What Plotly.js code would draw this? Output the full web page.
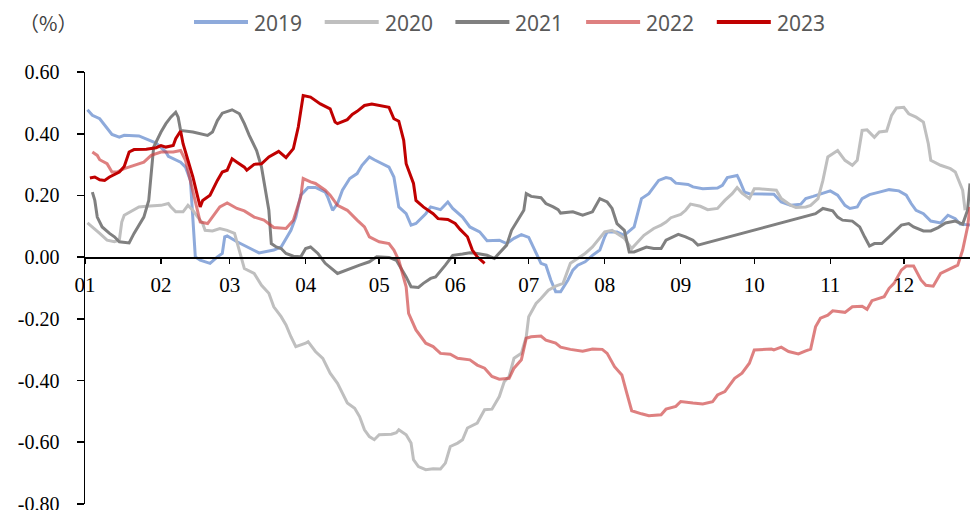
<!DOCTYPE html>
<html>
<head>
<meta charset="utf-8">
<script src="https://cdn.plot.ly/plotly-3.0.1.min.js"></script>
<style>
  html, body { margin: 0; padding: 0; background: #ffffff; }
  #chart { width: 970px; height: 510px; }
</style>
</head>
<body>
<div id="chart"></div>
<script>
// Month ticks (day-of-year where each month starts, non-leap calendar)
const monthLabels = ['01','02','03','04','05','06','07','08','09','10','11','12'];
const monthStartDays = [0, 31, 59, 90, 120, 151, 181, 212, 243, 273, 304, 334];

// Value axis ticks
const yTickVals = [-0.8, -0.6, -0.4, -0.2, 0, 0.2, 0.4, 0.6];
const yTickLabels = ['-0.80', '-0.60', '-0.40', '-0.20', '0.00', '0.20', '0.40', '0.60'];

const seriesNames = ['2019', '2020', '2021', '2022', '2023'];

// 2019 (day of year, %)
const day2019 = [1,3,6,8,11,14,16,22,25,29,33,34,39,41,43,44,45,47,51,54,56,57,58,62,66,71,77,80,84,86,88,91,94,98,99,101,103,105,108,111,113,116,118,121,124,126,128,131,133,135,139,141,145,148,150,154,157,161,164,169,172,175,178,181,184,186,188,190,192,194,197,199,201,204,207,210,212,213,217,220,224,227,230,232,234,237,239,241,246,248,252,258,260,262,266,267,269,271,281,284,288,292,294,297,300,304,307,310,312,315,317,320,324,328,332,335,337,339,342,345,349,352,355,357,361];
const val2019 = [0.478,0.460,0.449,0.427,0.398,0.389,0.395,0.393,0.384,0.370,0.341,0.327,0.308,0.292,0.249,0.120,0.001,-0.010,-0.020,0.001,0.012,0.066,0.069,0.050,0.033,0.014,0.023,0.033,0.087,0.130,0.201,0.226,0.226,0.211,0.195,0.152,0.174,0.217,0.255,0.271,0.298,0.325,0.316,0.303,0.292,0.260,0.163,0.141,0.104,0.109,0.141,0.163,0.154,0.179,0.158,0.130,0.098,0.082,0.053,0.055,0.044,0.061,0.073,0.064,0.012,-0.020,-0.026,-0.074,-0.112,-0.112,-0.074,-0.042,-0.026,-0.015,0.006,0.023,0.066,0.082,0.082,0.071,0.098,0.190,0.206,0.228,0.249,0.258,0.255,0.240,0.236,0.228,0.222,0.224,0.233,0.258,0.265,0.249,0.211,0.206,0.204,0.179,0.168,0.172,0.190,0.197,0.204,0.215,0.201,0.168,0.158,0.163,0.190,0.203,0.211,0.219,0.215,0.201,0.174,0.152,0.141,0.117,0.111,0.136,0.125,0.107,0.104];

// 2020
const day2020 = [1,3,6,9,12,14,15,16,19,22,25,31,34,35,37,40,42,44,46,48,49,52,55,58,61,63,65,69,72,75,77,80,82,84,86,90,91,94,97,100,103,105,107,110,112,114,116,118,120,125,127,128,131,133,134,136,139,142,145,147,149,152,154,156,160,163,166,169,171,173,175,178,180,181,184,186,189,192,195,198,201,204,207,210,212,215,217,220,223,226,228,232,235,237,239,243,245,247,251,254,258,261,264,266,268,271,273,275,282,284,288,290,294,296,299,301,303,307,310,313,315,317,319,322,324,327,329,331,334,336,339,342,344,345,349,353,355,358,359];
const val2020 = [0.111,0.098,0.077,0.055,0.050,0.055,0.114,0.136,0.150,0.163,0.165,0.168,0.174,0.163,0.147,0.147,0.168,0.152,0.130,0.109,0.087,0.085,0.093,0.087,0.077,0.023,-0.037,-0.053,-0.091,-0.117,-0.161,-0.193,-0.220,-0.258,-0.290,-0.279,-0.274,-0.306,-0.328,-0.376,-0.409,-0.441,-0.473,-0.490,-0.517,-0.560,-0.582,-0.592,-0.576,-0.574,-0.569,-0.560,-0.576,-0.603,-0.657,-0.679,-0.689,-0.686,-0.687,-0.668,-0.614,-0.603,-0.592,-0.554,-0.538,-0.495,-0.493,-0.452,-0.404,-0.387,-0.328,-0.312,-0.258,-0.193,-0.150,-0.134,-0.107,-0.094,-0.085,-0.020,-0.004,0.012,0.033,0.061,0.082,0.087,0.077,0.061,0.028,0.055,0.071,0.093,0.104,0.114,0.128,0.139,0.152,0.172,0.165,0.154,0.158,0.184,0.206,0.226,0.208,0.190,0.222,0.222,0.217,0.190,0.168,0.161,0.163,0.168,0.190,0.249,0.325,0.346,0.314,0.298,0.314,0.411,0.413,0.389,0.406,0.409,0.460,0.484,0.486,0.465,0.454,0.438,0.368,0.314,0.298,0.287,0.276,0.217,0.152];

// 2021 (no readings between early September and late October)
const day2021 = [3,4,5,7,10,12,14,18,20,22,24,26,27,28,31,33,35,37,38,39,44,50,52,54,56,60,63,65,67,70,72,73,75,76,78,80,82,85,88,90,92,95,98,103,108,112,116,119,124,127,131,133,136,138,141,143,147,150,154,157,160,164,167,170,172,174,177,179,180,182,186,188,191,193,194,199,203,207,210,213,215,217,220,222,224,229,232,235,237,242,245,248,250,298,301,305,307,309,313,316,318,320,322,325,328,330,333,336,338,342,345,348,351,355,358,360,361];
const val2021 = [0.211,0.184,0.130,0.098,0.077,0.066,0.050,0.046,0.077,0.104,0.130,0.184,0.271,0.357,0.406,0.433,0.454,0.470,0.454,0.411,0.406,0.395,0.406,0.443,0.467,0.478,0.465,0.433,0.395,0.346,0.292,0.249,0.152,0.044,0.033,0.028,0.012,0.003,0.001,0.028,0.033,0.012,-0.020,-0.053,-0.037,-0.026,-0.015,0.001,-0.001,-0.010,-0.064,-0.096,-0.098,-0.085,-0.069,-0.064,-0.026,0.006,0.010,0.014,0.012,0.006,-0.004,0.023,0.039,0.087,0.125,0.152,0.206,0.197,0.193,0.174,0.163,0.154,0.143,0.147,0.136,0.147,0.190,0.179,0.158,0.109,0.087,0.017,0.017,0.033,0.028,0.028,0.055,0.074,0.066,0.055,0.039,0.141,0.158,0.150,0.130,0.120,0.117,0.098,0.066,0.036,0.044,0.044,0.066,0.082,0.104,0.109,0.098,0.085,0.085,0.096,0.111,0.117,0.107,0.152,0.239];

// 2022
const day2022 = [3,5,6,9,11,13,16,20,24,27,31,36,39,41,43,45,47,50,52,55,58,62,65,69,73,77,82,85,88,89,92,94,98,100,103,107,111,114,116,120,124,126,128,131,132,135,139,142,145,149,152,157,160,163,166,169,173,175,178,180,182,186,188,192,194,198,203,207,211,213,216,219,221,223,227,230,235,237,241,243,248,252,256,258,261,265,268,271,273,280,281,284,287,291,294,296,298,300,303,305,310,313,317,319,321,326,328,330,333,335,338,341,343,346,349,353,356,358,360,361];
const val2022 = [0.341,0.330,0.316,0.303,0.276,0.276,0.287,0.298,0.308,0.330,0.341,0.341,0.346,0.314,0.249,0.174,0.114,0.109,0.130,0.163,0.176,0.158,0.150,0.130,0.120,0.096,0.093,0.120,0.195,0.255,0.244,0.239,0.217,0.201,0.168,0.152,0.120,0.098,0.066,0.050,0.044,0.023,-0.010,-0.096,-0.182,-0.236,-0.279,-0.290,-0.312,-0.315,-0.328,-0.333,-0.350,-0.360,-0.387,-0.396,-0.393,-0.360,-0.333,-0.263,-0.258,-0.256,-0.269,-0.279,-0.292,-0.299,-0.305,-0.298,-0.299,-0.312,-0.355,-0.382,-0.441,-0.498,-0.508,-0.514,-0.511,-0.493,-0.484,-0.468,-0.473,-0.476,-0.469,-0.447,-0.436,-0.393,-0.376,-0.344,-0.301,-0.298,-0.301,-0.292,-0.306,-0.314,-0.304,-0.298,-0.226,-0.198,-0.188,-0.174,-0.179,-0.161,-0.159,-0.169,-0.141,-0.128,-0.101,-0.085,-0.042,-0.029,-0.029,-0.074,-0.091,-0.094,-0.053,-0.037,-0.026,0.023,0.098,0.163];

// 2023 (through June)
const day2023 = [2,4,6,8,10,14,16,18,20,25,29,31,33,36,37,39,40,42,44,46,47,48,51,54,56,58,60,62,65,66,69,72,75,79,82,85,87,89,92,96,100,102,103,107,109,111,114,117,120,124,126,128,130,131,134,135,138,142,144,148,151,153,156,158,160,163];
const val2023 = [0.257,0.260,0.251,0.249,0.260,0.276,0.294,0.341,0.349,0.350,0.355,0.362,0.357,0.362,0.384,0.409,0.368,0.314,0.260,0.195,0.163,0.184,0.201,0.249,0.276,0.282,0.319,0.308,0.292,0.282,0.301,0.303,0.325,0.343,0.323,0.352,0.422,0.524,0.519,0.497,0.481,0.438,0.433,0.446,0.463,0.473,0.492,0.497,0.492,0.486,0.449,0.441,0.379,0.303,0.239,0.184,0.163,0.141,0.125,0.122,0.109,0.090,0.066,0.023,0.001,-0.020];

const seriesDays = [day2019, day2020, day2021, day2022, day2023];
const seriesVals = [val2019, val2020, val2021, val2022, val2023];
const seriesColors = ['#8EAADB', '#BFBFBF', '#808080', 'rgba(205,60,60,0.65)', '#C00000'];

const W = 970, H = 510;
const M = { l: 85, r: 0, t: 72, b: 6 };
const plotW = W - M.l - M.r, plotH = H - M.t - M.b;
// page pixel -> paper fraction helpers for the header items
const px = x => (x - M.l) / plotW;
const py = y => (H - M.b - y) / plotH;

const traces = seriesNames.map((name, i) => ({
  type: 'scatter',
  mode: 'lines',
  name: name,
  x: seriesDays[i],
  y: seriesVals[i],
  line: { color: seriesColors[i], width: 3, shape: 'linear' },
  hoverinfo: 'skip',
  showlegend: false
}));

// Header legend: a line sample and its year, laid out in one row
const legendStart = 194, legendStep = 130.7, legendLine = 54, legendY = 22;
const legendShapes = seriesNames.map((name, i) => ({
  type: 'line', xref: 'paper', yref: 'paper',
  x0: px(legendStart + i * legendStep), x1: px(legendStart + i * legendStep + legendLine),
  y0: py(legendY), y1: py(legendY),
  line: { color: seriesColors[i], width: 4 }
}));
const legendLabels = seriesNames.map((name, i) => ({
  text: name, xref: 'paper', yref: 'paper',
  x: px(legendStart + i * legendStep + legendLine + 4), y: py(legendY + 1),
  xanchor: 'left', yanchor: 'middle', showarrow: false,
  font: { family: '"Noto Sans", sans-serif', size: 21, color: '#595959' }
}));

const serif = '"Liberation Serif", "Times New Roman", serif';

const layout = {
  width: W,
  height: H,
  margin: { l: M.l, r: M.r, t: M.t, b: M.b, pad: 0, autoexpand: false },
  paper_bgcolor: '#ffffff',
  plot_bgcolor: '#ffffff',
  showlegend: false,
  xaxis: {
    range: [0, 361],
    anchor: 'free',
    position: 0.8 / 1.4,
    showline: true, linecolor: '#000000', linewidth: 1.5,
    showgrid: false, zeroline: false,
    tickmode: 'array', tickvals: monthStartDays, ticktext: monthLabels,
    ticks: 'outside', ticklen: 5, tickwidth: 1.5, tickcolor: '#000000',
    ticklabelstandoff: 3,
    ticklabeloverflow: 'allow',
    tickfont: { family: serif, size: 21, color: '#000000' },
    fixedrange: true
  },
  yaxis: {
    range: [-0.8005, 0.6005],
    showline: true, linecolor: '#000000', linewidth: 1.5,
    showgrid: false, zeroline: false,
    tickmode: 'array', tickvals: yTickVals, ticktext: yTickLabels,
    ticks: 'outside', ticklen: 7, tickwidth: 1.5, tickcolor: '#000000',
    ticklabelstandoff: 13,
    ticklabeloverflow: 'allow',
    tickfont: { family: serif, size: 20, color: '#000000' },
    fixedrange: true
  },
  shapes: legendShapes,
  annotations: legendLabels.concat([{
    text: '（%）',
    xref: 'paper', yref: 'paper',
    x: px(48), y: py(22),
    xanchor: 'center', yanchor: 'middle',
    showarrow: false,
    font: { family: '"Noto Sans CJK SC", sans-serif', size: 20, color: '#404040' }
  }])
};

Plotly.newPlot('chart', traces, layout, { staticPlot: true, displayModeBar: false });
</script>
</body>
</html>
